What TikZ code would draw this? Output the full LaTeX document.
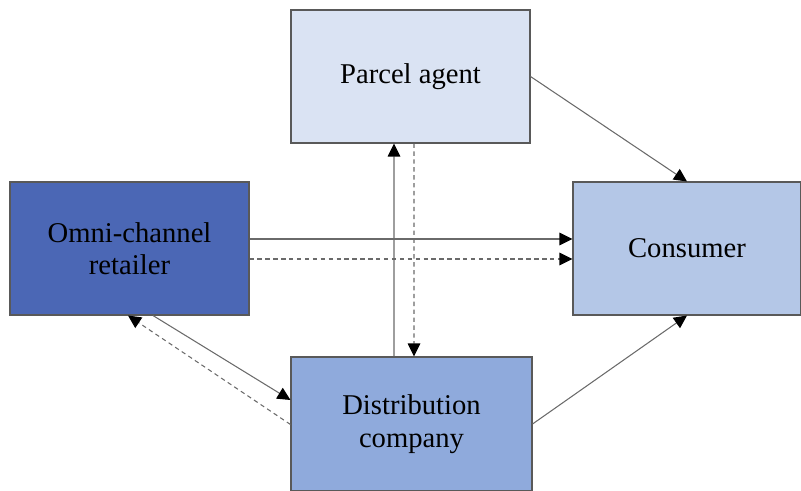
\documentclass[tikz,border=0pt]{standalone}
\usepackage{fontspec}
\setmainfont{Liberation Serif}
\usetikzlibrary{arrows.meta}
\definecolor{agent-fill}{HTML}{DAE3F3}
\definecolor{retailer-fill}{HTML}{4B67B5}
\definecolor{consumer-fill}{HTML}{B4C7E7}
\definecolor{distrib-fill}{HTML}{8FAADC}
\definecolor{edge-gray}{HTML}{595959}
\definecolor{link-gray}{HTML}{6A6A6A}

\begin{document}
\begin{tikzpicture}[
        every node/.style={font=\fontsize{16.3}{18.5}\selectfont},
        actor/.style={draw=edge-gray, line width=0.6pt, align=center,
          inner sep=0pt},
        link/.style={draw=link-gray, line width=0.6pt,
          -{Triangle[length=2.6mm, width=2.5mm, color=black]}},
        weak/.style={link, dash pattern=on 2.5pt off 2pt}]
      \useasboundingbox (0,0) rectangle (16.02,-9.82);
      \node[actor, fill=agent-fill, minimum width=4.78cm, minimum height=2.66cm]
        (agent) at (8.21,-1.53) {Parcel agent};
      \node[actor, fill=retailer-fill, minimum width=4.78cm, minimum height=2.66cm]
        (retailer) at (2.59,-4.97) {Omni-channel\\retailer};
      \node[actor, fill=consumer-fill, minimum width=4.56cm, minimum height=2.66cm]
        (consumer) at (13.74,-4.97) {Consumer};
      \node[actor, fill=distrib-fill, minimum width=4.82cm, minimum height=2.68cm]
        (distrib) at (8.23,-8.48) {Distribution\\company};
      % retailer to consumer
      \draw[link] ([yshift=0.19cm]retailer.east) -- ([yshift=0.19cm]consumer.west);
      \draw[weak] ([yshift=-0.21cm]retailer.east) -- ([yshift=-0.21cm]consumer.west);
      % agent and distribution company
      \draw[link] ([xshift=-0.35cm]distrib.north) -- ([xshift=-0.33cm]agent.south);
      \draw[weak] ([xshift=0.07cm]agent.south) -- ([xshift=0.05cm]distrib.north);
      % retailer and distribution company
      \draw[link] ([xshift=0.47cm]retailer.south) -- ([yshift=0.48cm]distrib.west);
      \draw[weak] ([yshift=-0.01cm]distrib.west) -- ([xshift=-0.03cm]retailer.south);
      % to consumer
      \draw[link] (agent.east) -- (consumer.north);
      \draw[link] (distrib.east) -- (consumer.south);
    \end{tikzpicture}
\end{document}
